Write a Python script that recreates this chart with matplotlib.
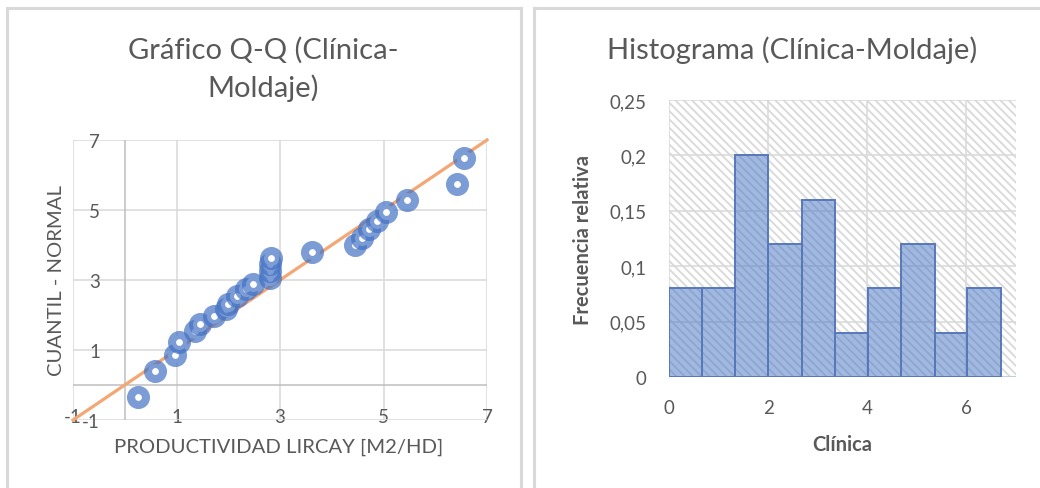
import numpy as np
import matplotlib
matplotlib.use("Agg")
import matplotlib.pyplot as plt
from matplotlib.patches import Rectangle

# ---- datos ----
# Q-Q: productividad (x) vs cuantil normal (y)
qq_x = [0.26, 0.58, 0.97, 1.04, 1.35, 1.45, 1.73, 1.95, 2.00, 2.16, 2.35, 2.48,
        2.80, 2.80, 2.80, 2.82, 3.62, 4.45, 4.58, 4.72, 4.88, 5.05, 5.46, 6.42, 6.56]
qq_y = [-0.35, 0.41, 0.86, 1.22, 1.55, 1.74, 1.96, 2.17, 2.31, 2.55, 2.74, 2.89,
        3.05, 3.25, 3.45, 3.62, 3.79, 4.00, 4.20, 4.45, 4.68, 4.94, 5.29, 5.74, 6.49]
ref_x = [-1, 7]
ref_y = [-1, 7]
qq_ticks = [-1, 1, 3, 5, 7]

# histograma: bordes de clase y frecuencia relativa
bin_edges = [0.0, 0.67, 1.33, 2.0, 2.68, 3.35, 4.01, 4.69, 5.36, 6.02, 6.69]
rel_freq = [0.08, 0.08, 0.20, 0.12, 0.16, 0.04, 0.08, 0.12, 0.04, 0.08]
hist_xticks = [0, 2, 4, 6]
hist_yticks = [0, 0.05, 0.10, 0.15, 0.20, 0.25]
hist_ylabels = ["0", "0,05", "0,1", "0,15", "0,2", "0,25"]

W, H = 1040, 489
TXT = "#595959"
GRID = "#D9D9D9"
BLUE = (0.267, 0.447, 0.769)

plt.rcParams["font.family"] = ["Lato", "DejaVu Sans"]
plt.rcParams["hatch.linewidth"] = 1.3
plt.rcParams["axes.unicode_minus"] = False

fig = plt.figure(figsize=(W / 100, H / 100), dpi=100)


def fx(px):
    return px / W


def fy(py):
    return 1 - py / H


# marcos de cada gráfico
for x0, x1 in [(7, 521), (534, 1100)]:
    fig.add_artist(Rectangle((fx(x0), fy(600)), fx(x1 - x0), (600 - 8.5) / H,
                             transform=fig.transFigure, fill=False,
                             edgecolor=GRID, linewidth=2.2))

# ---- Q-Q ----
ax1 = fig.add_axes([fx(73), fy(421), fx(487 - 73), (421 - 141) / H])
ax1.set_xlim(-1, 7); ax1.set_ylim(-1, 7)
ax1.set_xticks(qq_ticks); ax1.set_yticks(qq_ticks)
ax1.grid(True, color=GRID, linewidth=1.1)
ax1.set_axisbelow(True)
for s in ax1.spines.values():
    s.set_visible(False)
ax1.axhline(0, color="#BFBFBF", linewidth=1.1, zorder=0.6)
ax1.axvline(0, color="#BFBFBF", linewidth=1.1, zorder=0.6)
ax1.tick_params(axis="x", length=0, pad=-8.5, labelsize=13.5, labelcolor=TXT)
ax1.tick_params(axis="y", length=0, pad=-19.5, labelsize=13.5, labelcolor=TXT)
ax1.plot(ref_x, ref_y, color="#F4A673", linewidth=2.3, zorder=2, clip_on=False)
ax1.plot(qq_x, qq_y, linestyle="none", marker="o", markersize=10.8,
         markerfacecolor="white", markeredgecolor=BLUE + (0.7,),
         markeredgewidth=5.8, zorder=3)

fig.text(fx(263), fy(50), "Gráfico Q-Q (Clínica-", ha="center", va="center",
         fontsize=21, color=TXT)
fig.text(fx(263), fy(88), "Moldaje)", ha="center", va="center",
         fontsize=21, color=TXT)
fig.text(fx(279), fy(447), "PRODUCTIVIDAD LIRCAY [M2/HD]", ha="center",
         va="center", fontsize=14.6, color=TXT)
fig.text(fx(57), fy(280), "CUANTIL - NORMAL", ha="center", va="center",
         rotation=90, fontsize=14.6, color=TXT)

# ---- histograma ----
ax2 = fig.add_axes([fx(669), fy(378), fx(1016 - 669), (378 - 101) / H])
ax2.set_xlim(0, 7); ax2.set_ylim(0, 0.25)
ax2.add_patch(Rectangle((0, 0), 1, 1, transform=ax2.transAxes, facecolor="white",
                        edgecolor=GRID, hatch="\\\\\\\\", linewidth=0, zorder=0.2))
ax2.set_xticks(hist_xticks)
ax2.set_yticks(hist_yticks)
ax2.set_yticklabels(hist_ylabels)
ax2.grid(True, color=GRID, linewidth=1.1)
ax2.set_axisbelow(True)
for s in ax2.spines.values():
    s.set_visible(False)
ax2.axhline(0, color="#BFC9DF", linewidth=1.2, zorder=0.6)
ax2.tick_params(axis="x", length=0, pad=16, labelsize=13.5, labelcolor=TXT)
ax2.tick_params(axis="y", length=0, pad=16, labelsize=13.5, labelcolor=TXT)
edges = np.array(bin_edges)
ax2.bar(edges[:-1], rel_freq, width=np.diff(edges), align="edge",
        facecolor=BLUE + (0.5,), edgecolor="#5878BC", linewidth=1.4, zorder=2)

fig.text(fx(792), fy(50), "Histograma (Clínica-Moldaje)", ha="center",
         va="center", fontsize=21, color=TXT)
fig.text(fx(842), fy(445), "Clínica", ha="center", va="center",
         fontsize=14.5, fontweight="bold", color=TXT)
fig.text(fx(583), fy(240), "Frecuencia relativa", ha="center", va="center",
         rotation=90, fontsize=14.5, fontweight="bold", color=TXT)

fig.savefig("out.png", dpi=100)
